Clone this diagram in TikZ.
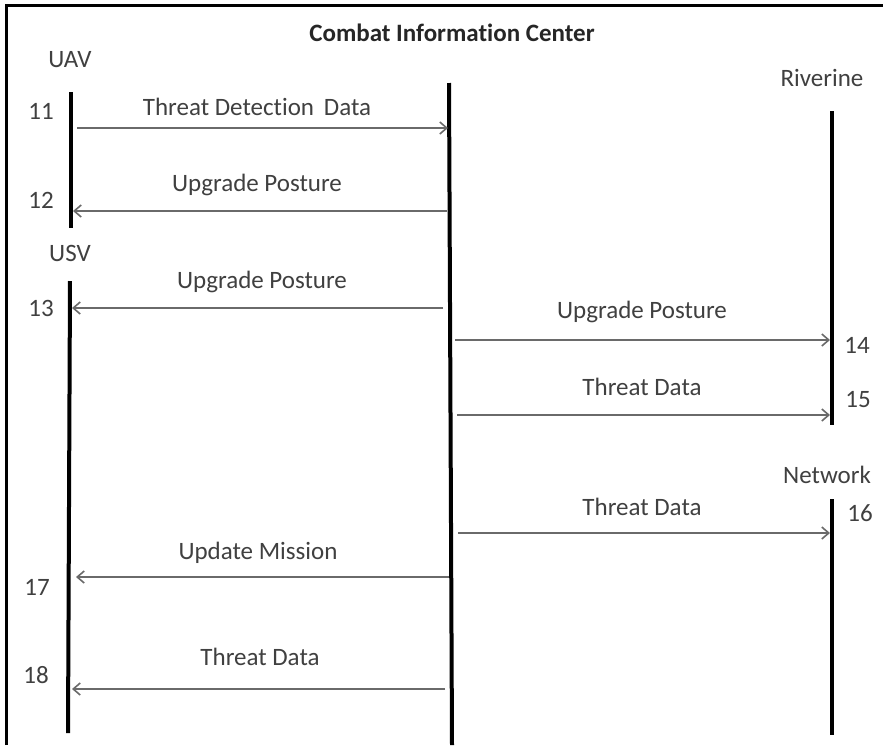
\documentclass[tikz,border=0pt]{standalone}
\usepackage{fontspec}
\setmainfont{Carlito}[Ligatures={NoCommon}]
\usetikzlibrary{arrows.meta}
\definecolor{txtgray}{HTML}{404040}
\definecolor{arrgray}{HTML}{6A6A6A}
\tikzset{
  lifeline/.style={line width=4pt, black},
  msg/.style={line width=2pt, arrgray, -{Straight Barb[length=7pt,width=12pt,line width=1.6pt]}},
  lbl/.style={inner sep=0pt, text=txtgray, font=\fontsize{25}{30}\selectfont},
  ttl/.style={inner sep=0pt, text=black!85, font=\fontsize{25}{30}\selectfont\bfseries},
  frameline/.style={line width=3pt, black}
}
\begin{document}
\begin{tikzpicture}[x=1pt, y=-1pt]
\useasboundingbox (0,0) rectangle (883,745);
\fill[white] (0,0) rectangle (883,745);
% frame
\coordinate (fa) at (6,745);
\coordinate (fb) at (6,5);
\coordinate (fc) at (883,5);
\draw[frameline] (fa) -- (fb) -- (fc);
% lifelines
\coordinate (uavT) at (71,92);   \coordinate (uavB) at (71,228);
\coordinate (usvT) at (70,281);  \coordinate (usvB) at (68,733);
\coordinate (cicT) at (449,83);  \coordinate (cicB) at (452,745);
\coordinate (rivT) at (832,111); \coordinate (rivB) at (832,425);
\coordinate (netT) at (832,499); \coordinate (netB) at (832,735);
\draw[lifeline] (uavT) -- (uavB);
\draw[lifeline] (usvT) -- (usvB);
\draw[lifeline] (cicT) -- (cicB);
\draw[lifeline] (rivT) -- (rivB);
\draw[lifeline] (netT) -- (netB);
% titles
\node[ttl] (cic) at (452,33) {Combat Information Center};
\node[lbl] (uav) at (70,60) {UAV};
\node[lbl] (usv) at (70,253) {USV};
\node[lbl] (riv) at (822,78) {Riverine};
\node[lbl] (net) at (827,475) {Network};
% message end points
\coordinate (m11a) at (77,128);  \coordinate (m11b) at (448,128);
\coordinate (m12a) at (447,211); \coordinate (m12b) at (73,211);
\coordinate (m13a) at (443,308); \coordinate (m13b) at (72,308);
\coordinate (m14a) at (455,340); \coordinate (m14b) at (830,340);
\coordinate (m15a) at (457,415); \coordinate (m15b) at (830,415);
\coordinate (m16a) at (458,533); \coordinate (m16b) at (830,533);
\coordinate (m17a) at (449,577); \coordinate (m17b) at (76,577);
\coordinate (m18a) at (445,689); \coordinate (m18b) at (72,689);
\draw[msg] (m11a) -- (m11b);
\draw[msg] (m12a) -- (m12b);
\draw[msg] (m13a) -- (m13b);
\draw[msg] (m14a) -- (m14b);
\draw[msg] (m15a) -- (m15b);
\draw[msg] (m16a) -- (m16b);
\draw[msg] (m17a) -- (m17b);
\draw[msg] (m18a) -- (m18b);
% message labels
\node[lbl] (t11) at (257,107) {Threat Detection\, Data};
\node[lbl] (t12) at (257,185) {Upgrade Posture};
\node[lbl] (t13) at (262,282) {Upgrade Posture};
\node[lbl] (t14) at (642,312) {Upgrade Posture};
\node[lbl] (t15) at (642,387) {Threat Data};
\node[lbl] (t16) at (642,507) {Threat Data};
\node[lbl] (t17) at (258,553) {Update Mission};
\node[lbl] (t18) at (260,657) {Threat Data};
% step numbers
\node[lbl] (n11) at (41,111) {11};
\node[lbl] (n12) at (41,200) {12};
\node[lbl] (n13) at (41,308) {13};
\node[lbl] (n14) at (857,345) {14};
\node[lbl] (n15) at (858,400) {15};
\node[lbl] (n16) at (860,513) {16};
\node[lbl] (n17) at (37,587) {17};
\node[lbl] (n18) at (36,675) {18};
\end{tikzpicture}
\end{document}
